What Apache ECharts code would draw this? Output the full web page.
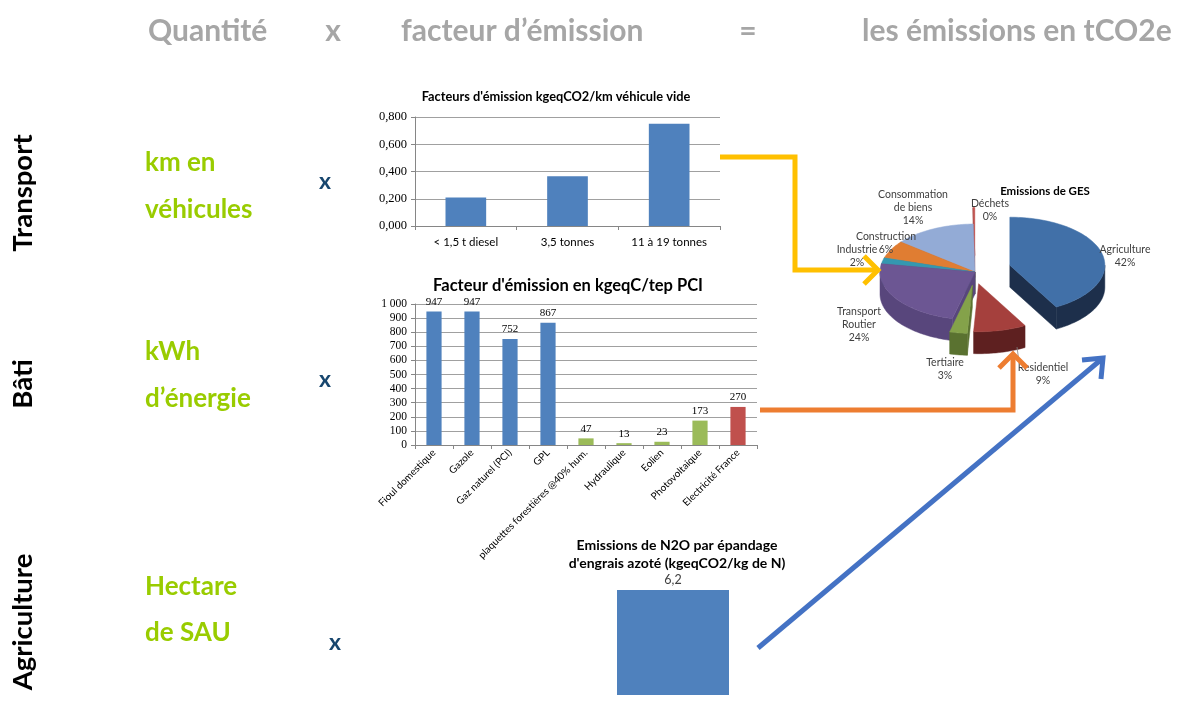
<!DOCTYPE html>
<html><head><meta charset="utf-8">
<script src="https://cdn.jsdelivr.net/npm/echarts@6/dist/echarts.min.js"></script>
<style>html,body{margin:0;padding:0;background:#fff}#c{width:1178px;height:705px}</style>
</head><body><div id="c"></div>
<script>
// ---------- DATA ----------
const transportCats = ['< 1,5 t diesel', '3,5 tonnes', '11 à 19 tonnes'];
const transportValues = [0.21, 0.365, 0.75];
const transportTicks = [0, 0.2, 0.4, 0.6, 0.8];

const energyCats = ['Fioul domestique', 'Gazole', 'Gaz naturel (PCI)', 'GPL', 'plaquettes forestières @40% hum.', 'Hydraulique', 'Eolien', 'Photovoltaique', 'Electricité France'];
const energyValues = [947, 947, 752, 867, 47, 13, 23, 173, 270];
const energyGroups = ['fossile', 'fossile', 'fossile', 'fossile', 'renouvelable', 'renouvelable', 'renouvelable', 'renouvelable', 'electricite'];

const n2oCats = ['N2O'];
const n2oValues = [6.2];

const gesNames = ['Agriculture', 'Residentiel', 'Tertiaire', 'Transport\nRoutier', 'Industrie', 'Construction', 'Consommation\nde biens', 'Déchets'];
const gesValues = [42, 9, 3, 24, 2, 6, 14, 0.3];

// ---------- STYLE / LAYOUT ----------
const groupColors = {fossile: '#4f81bd', renouvelable: '#9bbb59', electricite: '#c0504d'};
const pieTop = ['#4170a8', '#a5403d', '#84a24a', '#6c5693', '#3498b0', '#e07d32', '#93abd6', '#c0504d'];
const pieSide = ['#1d2f4b', '#5e2020', '#5a7230', '#58467c', '#1d5565', '#8a4a1c', '#3f4c68', '#8a3533'];
const pieExplode = [36, 16, 18, 0, 0, 0, 0, 22];
const PIE = {x: 975, y: 272, rx: 95, ry: 48, depth: 22};
const pieLabelPos = [[1125, 256], [1043, 374], [945, 369], [859, 325], [857, 256], [886, 243], [913, 208], [990, 210]];

const GREY = '#a6a6a6', GREEN = '#99cc00', XBLUE = '#17466e';
const sans = 'Lato', serif = 'Liberation Serif';

const total = gesValues.reduce((a, b) => a + b, 0);
const cum = [0];
gesValues.forEach(v => cum.push(cum[cum.length - 1] + v));
const mids = gesValues.map((v, i) => ((cum[i] + cum[i + 1]) / 2) / total * Math.PI * 2);
const order = mids.map((m, i) => i).sort((a, b) => (-Math.cos(mids[a])) - (-Math.cos(mids[b])));
const rank = [];
order.forEach((idx, r) => rank[idx] = r);

function frNum(v, d) {
  let s = v.toFixed(d).replace('.', ',');
  const parts = s.split(',');
  parts[0] = parts[0].replace(/\B(?=(\d{3})+(?!\d))/g, ' ');
  return parts.join(',');
}

function renderPie(params, api) {
  const i = params.dataIndex;
  const v = api.value(0);
  const a0 = cum[i] / total * Math.PI * 2;
  const a1 = (cum[i] + v) / total * Math.PI * 2;
  const mid = (a0 + a1) / 2;
  const e = pieExplode[i];
  const cx = PIE.x + e * Math.sin(mid);
  const cy = PIE.y - e * Math.cos(mid) * 0.75;
  const pt = (a, d) => [cx + PIE.rx * Math.sin(a), cy - PIE.ry * Math.cos(a) + (d || 0)];
  const arc = (s, t, d) => {
    const n = Math.max(2, Math.ceil((t - s) / 0.03));
    const out = [];
    for (let k = 0; k <= n; k++) out.push(pt(s + (t - s) * k / n, d));
    return out;
  };
  const base = rank[i] * 4;
  const children = [];
  const D = PIE.depth;
  const s = Math.max(a0, Math.PI / 2), t = Math.min(a1, Math.PI * 1.5);
  if (t > s) {
    const pts = arc(s, t, 0).concat(arc(s, t, D).reverse());
    children.push({type: 'polygon', z2: base + 1, shape: {points: pts},
      style: {fill: pieSide[i], stroke: pieSide[i], lineWidth: 0.5}});
  }
  if (Math.sin(a0) < 0) {
    children.push({type: 'polygon', z2: base + 2, shape: {points: [[cx, cy], pt(a0), pt(a0, D), [cx, cy + D]]},
      style: {fill: pieSide[i], stroke: pieSide[i], lineWidth: 0.5}});
  }
  if (Math.sin(a1) > 0.001) {
    children.push({type: 'polygon', z2: base + 2, shape: {points: [[cx, cy], pt(a1), pt(a1, D), [cx, cy + D]]},
      style: {fill: pieSide[i], stroke: pieSide[i], lineWidth: 0.5}});
  }
  const topPts = [[cx, cy]].concat(arc(a0, a1, 0));
  children.push({type: 'polygon', z2: base + 3, shape: {points: topPts},
    style: {fill: pieTop[i], stroke: pieTop[i], lineWidth: 0.5}});
  const pct = Math.round(v / total * 100) + '%';
  children.push({type: 'text', z2: 60, x: pieLabelPos[i][0], y: pieLabelPos[i][1],
    style: {text: gesNames[i] + '\n' + pct, fill: '#404040', font: '10.5px ' + sans,
      align: 'center', verticalAlign: 'middle', lineHeight: 13}});
  return {type: 'group', children: children};
}

function txt(x, y, text, font, color, align, rot) {
  return {type: 'text', x: x, y: y, rotation: rot || 0, z: 50,
    style: {text: text, font: font, fill: color, align: align || 'left', verticalAlign: 'middle'}};
}
function poly(points, color) {
  return {type: 'polyline', z: 40, shape: {points: points},
    style: {stroke: color, lineWidth: 5, lineJoin: 'miter', lineCap: 'butt', fill: null}};
}

const chart = echarts.init(document.getElementById('c'), null, {renderer: 'canvas'});
const axisGrey = '#868686';

chart.setOption({
  backgroundColor: '#ffffff',
  animation: false,
  title: [
    {text: "Facteurs d'émission kgeqCO2/km véhicule vide", left: 551, top: 85, textAlign: 'center',
      textStyle: {fontFamily: sans, fontSize: 12.8, fontWeight: 'bold', color: '#000'}},
    {text: "Facteur d'émission en kgeqC/tep PCI", left: 563, top: 272, textAlign: 'center',
      textStyle: {fontFamily: sans, fontSize: 16.5, fontWeight: 'bold', color: '#000'}},
    {text: "Emissions de N2O par épandage\nd'engrais azoté (kgeqCO2/kg de N)", left: 672, top: 531, textAlign: 'center',
      textStyle: {fontFamily: sans, fontSize: 14, fontWeight: 'bold', color: '#000', lineHeight: 18}},
    {text: 'Emissions de GES', left: 1040, top: 180, textAlign: 'center',
      textStyle: {fontFamily: sans, fontSize: 11.5, fontWeight: 'bold', color: '#000'}}
  ],
  grid: [
    {left: 415, top: 117, width: 305, height: 109},
    {left: 415, top: 304, width: 342, height: 141},
    {left: 605, top: 590, width: 136, height: 105}
  ],
  xAxis: [
    {type: 'category', gridIndex: 0, data: transportCats,
      axisLine: {lineStyle: {color: axisGrey}}, axisTick: {show: true, length: 4, lineStyle: {color: axisGrey}},
      axisLabel: {fontFamily: sans, fontSize: 11.5, color: '#000', margin: 10}},
    {type: 'category', gridIndex: 1, data: energyCats,
      axisLine: {lineStyle: {color: axisGrey}}, axisTick: {show: true, length: 4, lineStyle: {color: axisGrey}},
      axisLabel: {fontFamily: sans, fontSize: 10, color: '#000', rotate: 45, interval: 0, margin: 6}},
    {type: 'category', gridIndex: 2, data: n2oCats, show: false}
  ],
  yAxis: [
    {type: 'value', gridIndex: 0, min: transportTicks[0], max: transportTicks[transportTicks.length - 1], interval: 0.2,
      axisLine: {show: true, lineStyle: {color: axisGrey}}, axisTick: {show: true, length: 4, lineStyle: {color: axisGrey}},
      splitLine: {lineStyle: {color: '#a0a0a0'}},
      axisLabel: {fontFamily: serif, fontSize: 12.5, color: '#000', margin: 8, formatter: v => frNum(v, 3)}},
    {type: 'value', gridIndex: 1, min: 0, max: 1000, interval: 100,
      axisLine: {show: true, lineStyle: {color: axisGrey}}, axisTick: {show: true, length: 4, lineStyle: {color: axisGrey}},
      splitLine: {lineStyle: {color: '#a0a0a0'}},
      axisLabel: {fontFamily: serif, fontSize: 11.5, color: '#000', margin: 8, formatter: v => frNum(v, 0)}},
    {type: 'value', gridIndex: 2, min: 0, max: 'dataMax', show: false}
  ],
  series: [
    {type: 'bar', xAxisIndex: 0, yAxisIndex: 0, data: transportValues, barWidth: '40%',
      itemStyle: {color: '#4f81bd'}},
    {type: 'bar', xAxisIndex: 1, yAxisIndex: 1, barWidth: '40%',
      data: energyValues.map((v, i) => ({value: v, itemStyle: {color: groupColors[energyGroups[i]]}})),
      label: {show: true, position: 'top', distance: 4, fontFamily: serif, fontSize: 11, color: '#000'}},
    {type: 'bar', xAxisIndex: 2, yAxisIndex: 2, data: n2oValues, barWidth: 112,
      itemStyle: {color: '#4f81bd'},
      label: {show: true, position: 'top', distance: 4, fontFamily: sans, fontSize: 12.5, color: '#404040',
        formatter: p => frNum(p.value, 1)}},
    {type: 'custom', coordinateSystem: 'none', data: gesValues.map(v => [v]), renderItem: renderPie, silent: true, z: 5}
  ],
  graphic: [
    txt(148, 31, 'Quantité', 'bold 30px ' + sans, GREY),
    txt(333, 31, 'x', 'bold 30px ' + sans, GREY, 'center'),
    txt(401, 31, 'facteur d’émission', 'bold 30px ' + sans, GREY),
    txt(748, 31, '=', 'bold 30px ' + sans, GREY, 'center'),
    txt(862, 31, 'les émissions en tCO2e', 'bold 30px ' + sans, GREY),

    txt(23, 193, 'Transport', 'bold 27.5px ' + sans, '#000', 'center', Math.PI / 2),
    txt(23, 384, 'Bâti', 'bold 27.5px ' + sans, '#000', 'center', Math.PI / 2),
    txt(23, 622, 'Agriculture', 'bold 27.5px ' + sans, '#000', 'center', Math.PI / 2),

    txt(145, 163, 'km en', 'bold 26px ' + sans, GREEN),
    txt(145, 210, 'véhicules', 'bold 26px ' + sans, GREEN),
    txt(145, 352, 'kWh', 'bold 26px ' + sans, GREEN),
    txt(145, 399, 'd’énergie', 'bold 26px ' + sans, GREEN),
    txt(145, 587, 'Hectare', 'bold 26px ' + sans, GREEN),
    txt(145, 633, 'de SAU', 'bold 26px ' + sans, GREEN),

    txt(325, 182, 'x', 'bold 23px ' + sans, XBLUE, 'center'),
    txt(325, 380, 'x', 'bold 23px ' + sans, XBLUE, 'center'),
    txt(335, 643, 'x', 'bold 23px ' + sans, XBLUE, 'center'),

    poly([[720, 157], [795, 157], [795, 270], [878, 270]], '#ffc000'),
    poly([[864, 256], [878, 270], [864, 284]], '#ffc000'),
    poly([[760, 410], [1013, 410], [1013, 354]], '#ed7d31'),
    poly([[999, 368], [1013, 354], [1027, 368]], '#ed7d31'),
    poly([[758, 648], [1103, 358]], '#4472c4'),
    poly([[1082, 360], [1103, 358], [1101, 379]], '#4472c4'),
    {type: 'line', z: 30, shape: {x1: 1017, y1: 347, x2: 1019, y2: 362}, style: {stroke: '#808080', lineWidth: 0.8}}
  ]
});
</script></body></html>
